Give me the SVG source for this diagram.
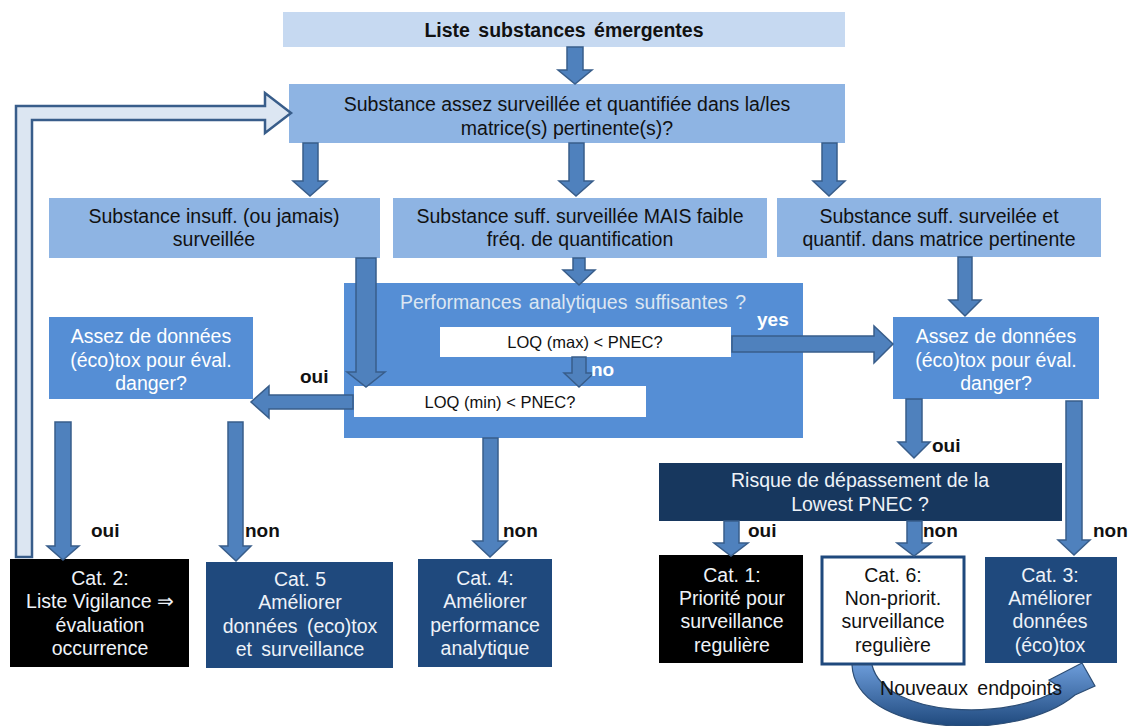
<svg xmlns="http://www.w3.org/2000/svg" width="1131" height="726" viewBox="0 0 1131 726">
<defs>
<style>
text{font-family:"Liberation Sans",Arial,sans-serif;font-size:19.5px;text-anchor:middle}
.dk{fill:#111}
.wt{fill:#ffffff}
.lt{fill:#eef2f8}
.lbl{font-weight:bold;font-size:19px;text-anchor:start}
.loq{font-size:16.5px;fill:#111}
.arr{fill:#4f81bd;stroke:#385d8a;stroke-width:1.5}
.b1{fill:#c6d9f1}
.b2{fill:#8eb4e3}
.b3{fill:#558ed5}
.bd{fill:#1f497d}
.bk{fill:#000}
</style>
<linearGradient id="cg" x1="0" y1="0" x2="0" y2="1">
<stop offset="0" stop-color="#6d9ddb"/>
<stop offset="1" stop-color="#1f497d"/>
</linearGradient>
</defs>
<rect width="1131" height="726" fill="#fff"/>

<g id="n-liste">
<rect class="b1" x="283" y="12" width="562" height="35"/>
<text x="564" y="37" class="dk" style="font-weight:bold;font-size:19.5px" word-spacing="3">Liste substances émergentes</text>
</g>

<g id="n-assez-surv">
<rect class="b2" x="289" y="84" width="556" height="59"/>
<text x="567" y="111" class="dk">Substance assez surveillée et quantifiée dans la/les</text>
<text x="567" y="135" class="dk">matrice(s) pertinente(s)?</text>
</g>

<g id="n-insuff">
<rect class="b2" x="49" y="198" width="331" height="60"/>
<text x="214" y="223" class="dk">Substance insuff. (ou jamais)</text>
<text x="214" y="246" class="dk">surveillée</text>
</g>

<g id="n-faible">
<rect class="b2" x="393" y="198" width="374" height="60"/>
<text x="580" y="223" class="dk">Substance suff. surveillée MAIS faible</text>
<text x="580" y="246" class="dk">fréq. de quantification</text>
</g>

<g id="n-suff">
<rect class="b2" x="777" y="198" width="324" height="59"/>
<text x="939" y="223" class="dk">Substance suff. surveilée et</text>
<text x="939" y="246" class="dk">quantif. dans matrice pertinente</text>
</g>

<g id="n-perf">
<rect class="b3" x="344" y="283" width="459" height="155"/>
<text x="573" y="309" fill="#dce6f2" word-spacing="2">Performances analytiques suffisantes ?</text>
</g>

<g id="n-loqmax">
<rect fill="#fff" x="440" y="327" width="291" height="30"/>
<text x="585" y="348" class="loq">LOQ (max) &lt; PNEC?</text>
</g>

<g id="n-loqmin">
<rect fill="#fff" x="354" y="386" width="292" height="31"/>
<text x="500" y="408" class="loq">LOQ (min) &lt; PNEC?</text>
</g>

<g id="n-assez-left">
<rect class="b3" x="49" y="317" width="204" height="82"/>
<text x="151" y="343" class="wt">Assez de données</text>
<text x="151" y="367" class="wt">(éco)tox pour éval.</text>
<text x="151" y="390" class="wt">danger?</text>
</g>

<g id="n-assez-right">
<rect class="b3" x="893" y="317" width="206" height="82"/>
<text x="996" y="343" class="wt">Assez de données</text>
<text x="996" y="367" class="wt">(éco)tox pour éval.</text>
<text x="996" y="390" class="wt">danger?</text>
</g>

<g id="n-risque">
<rect fill="#17375e" x="659" y="463" width="403" height="58"/>
<text x="860" y="487" class="lt">Risque de dépassement de la</text>
<text x="860" y="511" class="lt">Lowest PNEC ?</text>
</g>

<g id="n-cat2">
<rect class="bk" x="10" y="559" width="179" height="108"/>
<text x="100" y="585" class="lt">Cat. 2:</text>
<text x="100" y="608" class="lt">Liste Vigilance ⇒</text>
<text x="100" y="632" class="lt">évaluation</text>
<text x="100" y="655" class="lt">occurrence</text>
</g>

<g id="n-cat5">
<rect class="bd" x="206" y="562" width="187" height="106"/>
<text x="300" y="586" class="lt">Cat. 5</text>
<text x="300" y="609" class="lt">Améliorer</text>
<text x="300" y="633" class="lt" word-spacing="4">données (eco)tox</text>
<text x="300" y="656" class="lt" word-spacing="4">et surveillance</text>
</g>

<g id="n-cat4">
<rect class="bd" x="418" y="559" width="134" height="108"/>
<text x="485" y="585" class="lt">Cat. 4:</text>
<text x="485" y="608" class="lt">Améliorer</text>
<text x="485" y="632" class="lt">performance</text>
<text x="485" y="655" class="lt">analytique</text>
</g>

<g id="n-cat1">
<rect class="bk" x="659" y="555" width="144" height="108"/>
<text x="732" y="582" class="lt">Cat. 1:</text>
<text x="732" y="605" class="lt">Priorité pour</text>
<text x="732" y="628" class="lt">surveillance</text>
<text x="732" y="652" class="lt">regulière</text>
</g>

<g id="n-cat6">
<rect fill="#fff" stroke="#1f497d" stroke-width="3" x="822" y="557" width="142" height="107"/>
<text x="893" y="582" class="dk">Cat. 6:</text>
<text x="893" y="605" class="dk">Non-priorit.</text>
<text x="893" y="628" class="dk">surveillance</text>
<text x="893" y="652" class="dk">regulière</text>
</g>

<g id="n-cat3">
<rect class="bd" x="985" y="557" width="132" height="106"/>
<text x="1050" y="582" class="lt">Cat. 3:</text>
<text x="1050" y="605" class="lt">Améliorer</text>
<text x="1050" y="628" class="lt">données</text>
<text x="1050" y="652" class="lt">(éco)tox</text>
</g>

<g id="connectors">
<!-- feedback arrow -->
<polygon fill="#dce6f2" stroke="#385d8a" stroke-width="2.5" points="16,557 16,106 265,106 265,93 291,113 265,133 265,120 32,120 32,557"/>
<!-- down arrows -->
<polygon class="arr" points="567,47 583,47 583,70 592,70 575,84 558,70 567,70"/>
<polygon class="arr" points="303,143 318,143 318,181 327,181 310,196 293,181 303,181"/>
<polygon class="arr" points="569,143 584,143 584,181 593,181 576,196 559,181 569,181"/>
<polygon class="arr" points="822,143 837,143 837,181 845,181 829,196 813,181 822,181"/>
<polygon class="arr" points="573,258 585,258 585,270 595,270 579,285 563,270 573,270"/>
<polygon class="arr" points="356,258 376,258 376,372 385,372 366,387 347,372 356,372"/>
<polygon class="arr" points="572,357 586,357 586,373 594,373 579,387 564,373 572,373"/>
<polygon class="arr" points="958,257 972,257 972,300 981,300 965,316 949,300 958,300"/>
<polygon class="arr" points="906,399 922,399 922,442 930,442 914,458 898,442 906,442"/>
<polygon class="arr" points="1066,401 1082,401 1082,540 1090,540 1074,555 1058,540 1066,540"/>
<polygon class="arr" points="55,422 71,422 71,546 79,546 63,560 47,546 55,546"/>
<polygon class="arr" points="228,422 243,422 243,546 251,546 236,561 220,546 228,546"/>
<polygon class="arr" points="483,438 498,438 498,541 507,541 490,557 473,541 483,541"/>
<polygon class="arr" points="724,521 739,521 739,543 748,543 731,556 714,543 724,543"/>
<polygon class="arr" points="907,521 922,521 922,543 931,543 914,556 897,543 907,543"/>
<!-- horizontal arrows -->
<polygon class="arr" points="353,395 353,409 269,409 269,418 251,402 269,386 269,395"/>
<polygon class="arr" points="732,336 874,336 874,326 893,344 874,363 874,352 732,352"/>
<!-- curved arrow -->
<path fill="url(#cg)" stroke="#2c4d75" stroke-width="1.2" d="M852,665 C855,735 1015,745 1075,695 L1095,686 L1082,663 L1049,680 L1061,688 C1010,722 885,718 872,665 Z"/>
</g>

<g id="labels">
<text x="91" y="537" class="lbl dk">oui</text>
<text x="245" y="537" class="lbl dk">non</text>
<text x="503" y="537" class="lbl dk">non</text>
<text x="748" y="537" class="lbl dk">oui</text>
<text x="923" y="537" class="lbl dk">non</text>
<text x="1093" y="537" class="lbl dk">non</text>
<text x="300" y="383" class="lbl dk">oui</text>
<text x="932" y="452" class="lbl dk">oui</text>
<text x="757" y="326" class="lbl wt">yes</text>
<text x="591" y="376" class="lbl wt">no</text>
<text x="971" y="695" class="dk" word-spacing="4">Nouveaux endpoints</text>
</g>
</svg>
